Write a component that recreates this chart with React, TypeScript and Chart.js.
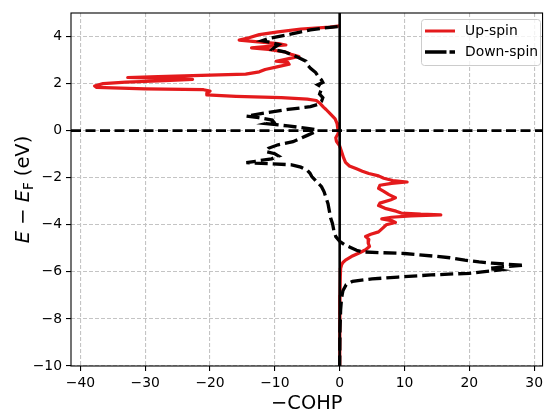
import React, { useEffect, useRef } from 'react';
import { Chart, registerables } from 'chart.js';

Chart.register(...registerables);

// ---------- data ----------
const upEnergy = [
  4.45, 4.40, 4.32, 4.20, 4.08, 3.95, 3.85, 3.78, 3.70, 3.64, 3.58, 3.52, 3.45, 3.35, 3.25, 3.15,
  3.05, 2.95, 2.90, 2.82, 2.72, 2.60, 2.50, 2.40, 2.36, 2.30, 2.26, 2.22, 2.18, 2.12, 2.06, 2.00,
  1.90, 1.84, 1.78, 1.74, 1.68, 1.60, 1.52, 1.46, 1.40, 1.34, 1.28, 1.15, 1.00, 0.90, 0.70, 0.50,
  0.30, 0.10, -0.10, -0.30, -0.45, -0.65, -0.90, -1.15, -1.35, -1.50, -1.62, -1.72, -1.82, -1.92,
  -2.02, -2.12, -2.18, -2.24, -2.32, -2.45, -2.58, -2.72, -2.85, -2.95, -3.08, -3.18, -3.30, -3.42,
  -3.50, -3.55, -3.58, -3.62, -3.68, -3.75, -3.82, -3.90, -4.00, -4.15, -4.30, -4.40, -4.50, -4.62,
  -4.78, -4.92, -5.06, -5.20, -5.35, -5.50, -5.60, -5.70, -5.85, -6.20, -7.00, -8.50, -10.0,
];
const upCOHP = [
  0.0, -1.5, -6.0, -9.5, -12.4, -14.0, -15.5, -13.0, -9.5, -8.3, -11.0, -13.6, -11.0, -8.5, -7.5, -6.3,
  -8.0, -9.8, -8.0, -7.8, -9.5, -11.5, -12.4, -14.5, -20.0, -28.0, -32.7, -27.0, -22.7, -27.0, -33.0, -36.5,
  -37.8, -37.5, -30.0, -21.0, -20.0, -20.5, -20.5, -16.0, -9.0, -5.0, -3.6, -3.0, -2.5, -2.1, -1.4, -0.7,
  -0.4, -0.3, -0.2, -0.6, -0.5, 0.0, 0.3, 0.6, 0.9, 1.5, 2.6, 3.5, 4.5, 6.0,
  6.8, 8.2, 10.4, 8.0, 6.2, 6.0, 6.8, 7.6, 8.6, 7.8, 6.2, 6.0, 7.0, 8.7,
  9.5, 12.5, 15.6, 11.0, 8.0, 6.5, 8.0, 8.6, 7.2, 6.6, 6.0, 4.8, 4.0, 4.5,
  4.4, 4.6, 4.0, 3.0, 1.8, 0.9, 0.5, 0.3, 0.15, 0.1, 0.05, 0.02, 0.0,
];

const downEnergy = [
  4.42, 4.36, 4.28, 4.18, 4.05, 3.92, 3.82, 3.74, 3.66, 3.55, 3.45, 3.35, 3.23, 3.10, 2.95, 2.80,
  2.65, 2.47, 2.30, 2.15, 2.05, 1.95, 1.85, 1.70, 1.55, 1.40, 1.25, 1.12, 1.02, 0.90, 0.75, 0.62,
  0.55, 0.45, 0.38, 0.30, 0.20, 0.10, 0.04, -0.05, -0.20, -0.35, -0.47, -0.60, -0.75, -0.89,
  -0.98, -1.08, -1.20, -1.30, -1.36, -1.40, -1.45, -1.55, -1.68, -1.80, -1.95, -2.15, -2.38, -2.60,
  -2.85, -3.10, -3.40, -3.70, -3.95, -4.25, -4.50, -4.70, -4.85, -4.95, -5.08, -5.15, -5.18, -5.22,
  -5.33, -5.40, -5.50, -5.58, -5.63, -5.68, -5.72, -5.78, -5.85, -5.92, -6.00, -6.06, -6.13, -6.22,
  -6.30, -6.40, -6.55, -6.80, -7.10, -7.60, -8.50, -10.0,
];
const downCOHP = [
  -0.3, -2.5, -4.5, -6.3, -8.5, -11.0, -12.0, -10.5, -9.4, -10.0, -10.4, -8.5, -7.4, -6.3, -5.2, -5.0,
  -4.5, -3.7, -3.3, -2.8, -2.6, -3.4, -2.8, -2.9, -3.1, -2.6, -2.8, -3.3, -4.5, -8.0, -11.5, -14.4,
  -12.5, -10.4, -10.2, -11.4, -8.0, -5.0, -3.7, -3.8, -5.0, -6.2, -7.2, -9.5, -11.0, -11.4,
  -10.0, -9.4, -10.5, -13.0, -14.4, -11.0, -7.4, -6.0, -5.0, -4.6, -4.3, -3.6, -2.8, -2.4,
  -2.1, -1.8, -1.6, -1.4, -1.1, -0.9, -0.6, 0.0, 0.8, 1.6, 2.6, 3.5, 6.0, 10.0,
  14.5, 17.0, 19.3, 21.5, 23.5, 26.0, 28.5, 25.5, 23.0, 24.6, 22.0, 20.0, 14.1, 9.0,
  5.0, 2.0, 1.0, 0.5, 0.3, 0.15, 0.05, 0.0,
];

const seriesLabels = ['Up-spin', 'Down-spin'];
const xTicks = [-40, -30, -20, -10, 0, 10, 20, 30];
const yTicks = [-10, -8, -6, -4, -2, 0, 2, 4];
const xTitle = '\u2212COHP';

const X_MIN = -41.45;
const X_MAX = 31.3;
const Y_MIN = -10;
const Y_MAX = 5;

const W = 547;
const H = 411;
const RED = '#e41a1c';
const FONT = "'DejaVu Sans', 'Liberation Sans', sans-serif";

const fmt = (v: number) => (v < 0 ? '\u2212' + Math.abs(v) : String(v));

const zip = (ys: number[], xs: number[]) => ys.map((y, i) => ({ x: xs[i], y }));

function roundRect(ctx: CanvasRenderingContext2D, x: number, y: number, w: number, h: number, r: number) {
  ctx.beginPath();
  ctx.moveTo(x + r, y);
  ctx.lineTo(x + w - r, y);
  ctx.arcTo(x + w, y, x + w, y + r, r);
  ctx.lineTo(x + w, y + h - r);
  ctx.arcTo(x + w, y + h, x + w - r, y + h, r);
  ctx.lineTo(x + r, y + h);
  ctx.arcTo(x, y + h, x, y + h - r, r);
  ctx.lineTo(x, y + r);
  ctx.arcTo(x, y, x + r, y, r);
  ctx.closePath();
}

const decor = {
  id: 'decor',
  afterDraw(chart: any) {
    const ctx: CanvasRenderingContext2D = chart.ctx;
    const a = chart.chartArea;
    ctx.save();

    // frame
    ctx.setLineDash([]);
    ctx.strokeStyle = '#000';
    ctx.lineWidth = 1.1;
    ctx.strokeRect(a.left, a.top, a.right - a.left, a.bottom - a.top);

    // legend
    const lx = 421.5, ly = 19.5, lw = 119, lh = 46;
    roundRect(ctx, lx, ly, lw, lh, 3);
    ctx.fillStyle = 'rgba(255,255,255,0.8)';
    ctx.fill();
    ctx.strokeStyle = '#cccccc';
    ctx.lineWidth = 1;
    ctx.stroke();

    const r1 = 31, r2 = 52;
    ctx.lineCap = 'butt';
    ctx.strokeStyle = RED;
    ctx.lineWidth = 3;
    ctx.beginPath();
    ctx.moveTo(425, r1);
    ctx.lineTo(455, r1);
    ctx.stroke();

    ctx.strokeStyle = '#000';
    ctx.lineWidth = 3.3;
    ctx.setLineDash([21.5, 3]);
    ctx.beginPath();
    ctx.moveTo(425, r2);
    ctx.lineTo(455, r2);
    ctx.stroke();
    ctx.setLineDash([]);

    ctx.fillStyle = '#000';
    ctx.font = `13.9px ${FONT}`;
    ctx.textAlign = 'left';
    ctx.textBaseline = 'middle';
    ctx.fillText(seriesLabels[0], 465, r1);
    ctx.fillText(seriesLabels[1], 465, r2);

    // x title
    ctx.font = `19.4px ${FONT}`;
    ctx.textAlign = 'center';
    ctx.textBaseline = 'alphabetic';
    ctx.fillText(xTitle, (a.left + a.right) / 2, 409);

    // y title: E − E_F (eV)
    const italic = `italic 19.4px ${FONT}`;
    const normal = `19.4px ${FONT}`;
    const small = `13.6px ${FONT}`;
    const parts = [
      { t: 'E', f: italic, dy: 0 },
      { t: ' \u2212 ', f: normal, dy: 0 },
      { t: 'E', f: italic, dy: 0 },
      { t: 'F', f: small, dy: 4 },
      { t: ' (eV)', f: normal, dy: 0 },
    ];
    let total = 0;
    const widths = parts.map((p) => {
      ctx.font = p.f;
      const w = ctx.measureText(p.t).width;
      total += w;
      return w;
    });
    ctx.translate(29, (a.top + a.bottom) / 2);
    ctx.rotate(-Math.PI / 2);
    ctx.textAlign = 'left';
    let cx = -total / 2;
    parts.forEach((p, i) => {
      ctx.font = p.f;
      ctx.fillText(p.t, cx, p.dy);
      cx += widths[i];
    });

    ctx.restore();
  },
};

export default function App() {
  const ref = useRef<HTMLCanvasElement | null>(null);

  useEffect(() => {
    document.body.style.margin = '0';
    const canvas = ref.current;
    if (!canvas) return;

    const gridCommon = {
      color: '#c4c4c4',
      lineWidth: 1.1,
      drawTicks: true,
      tickLength: 5,
      tickColor: '#000',
      tickWidth: 1.1,
      tickBorderDash: [],
    };
    const tickCommon = {
      color: '#000',
      font: { family: FONT, size: 13.9 },
      padding: 4,
      autoSkip: false,
      maxRotation: 0,
      minRotation: 0,
      callback: (v: any) => fmt(Number(v)),
    };

    const chart = new Chart(canvas, {
      type: 'scatter',
      data: {
        datasets: [
          {
            label: seriesLabels[0],
            data: zip(upEnergy, upCOHP),
            showLine: true,
            borderColor: RED,
            backgroundColor: RED,
            borderWidth: 3.2,
            borderJoinStyle: 'round',
            pointRadius: 0,
            order: 3,
          },
          {
            label: seriesLabels[1],
            data: zip(downEnergy, downCOHP),
            showLine: true,
            borderColor: '#000',
            backgroundColor: '#000',
            borderWidth: 3.3,
            borderDash: [13, 5],
            pointRadius: 0,
            order: 2,
          },
          {
            label: 'x0',
            data: [{ x: 0, y: Y_MIN }, { x: 0, y: Y_MAX }],
            showLine: true,
            borderColor: '#000',
            borderWidth: 2.6,
            pointRadius: 0,
            order: 1,
          },
          {
            label: 'y0',
            data: [{ x: X_MIN, y: 0 }, { x: X_MAX, y: 0 }],
            showLine: true,
            borderColor: '#000',
            borderWidth: 2.6,
            borderDash: [10, 4.5],
            pointRadius: 0,
            order: 0,
          },
        ],
      } as any,
      options: {
        responsive: false,
        animation: false,
        devicePixelRatio: 1,
        events: [],
        layout: { padding: { top: 13, right: 2, left: 0, bottom: 0 } },
        plugins: {
          legend: { display: false },
          tooltip: { enabled: false },
          title: { display: false },
        },
        scales: {
          x: {
            type: 'linear',
            min: X_MIN,
            max: X_MAX,
            afterBuildTicks: (s: any) => {
              s.ticks = xTicks.map((v) => ({ value: v }));
            },
            afterFit: (s: any) => {
              s.height = 45;
            },
            grid: gridCommon,
            border: { display: false, dash: [4, 2] },
            ticks: tickCommon,
          },
          y: {
            type: 'linear',
            min: Y_MIN,
            max: Y_MAX,
            afterBuildTicks: (s: any) => {
              s.ticks = yTicks.map((v) => ({ value: v }));
            },
            afterFit: (s: any) => {
              s.width = 71;
            },
            grid: gridCommon,
            border: { display: false, dash: [4, 2] },
            ticks: tickCommon,
          },
        },
      } as any,
      plugins: [decor],
    });

    return () => chart.destroy();
  }, []);

  return (
    <div style={{ width: W, height: H, position: 'relative' }}>
      <canvas ref={ref} width={W} height={H} style={{ width: W, height: H, display: 'block' }} />
    </div>
  );
}
